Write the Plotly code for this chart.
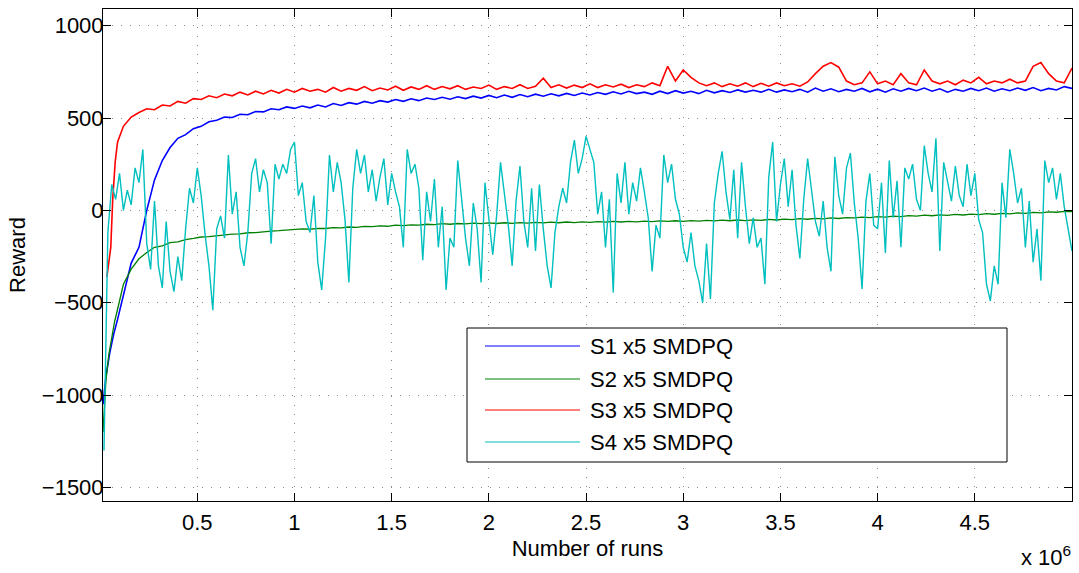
import plotly.graph_objects as go

# ---------------- data (x in millions of runs) ----------------
SERIES_NAMES = ["S1 x5 SMDPQ", "S2 x5 SMDPQ", "S3 x5 SMDPQ", "S4 x5 SMDPQ"]
SERIES_COLORS = ["#0000FF", "#008000", "#FF0000", "#00BFBF"]

# regular sampling grid shared by S1, S2, S3 (start, step in millions)
GRID_START, GRID_STEP = 0.12, 0.04

# early (steep) portion of each curve
S1_EARLY_X = [0.015, 0.03, 0.05, 0.07, 0.09, 0.105]
S1_EARLY_Y = [-1050, -900, -770, -670, -590, -525]
S2_EARLY_X = [0.015, 0.02, 0.03, 0.045, 0.06, 0.075, 0.09, 0.105]
S2_EARLY_Y = [-1200, -1080, -920, -780, -680, -600, -535, -470]
S3_EARLY_X = [0.035, 0.045, 0.055, 0.065, 0.078, 0.09, 0.10]
S3_EARLY_Y = [-360, -290, -200, 60, 266, 370, 400]

S1_Y = [
    -460, -285, -200, 0, 165, 270, 340, 390, 410, 442, 455, 480, 488, 505, 503, 520, 518, 535, 533,
    550, 545, 560, 552, 565, 555, 570, 560, 578, 568, 583, 575, 590, 580, 594, 586, 600, 590, 604, 594, 608,
    600, 612, 602, 615, 605, 618, 608, 622, 610, 624, 612, 627, 615, 629, 618, 631, 620, 633, 622, 635, 625,
    638, 628, 642, 630, 645, 632, 640, 628, 645, 632, 648, 635, 645, 632, 650, 636, 648, 638, 652, 640,
    650, 640, 655, 640, 652, 642, 655, 640, 662, 645, 658, 642, 655, 645, 660, 642, 656, 640, 658, 645, 660,
    648, 662, 645, 658, 640, 655, 645, 660, 648, 662, 645, 658, 648, 662, 650, 665, 648, 660, 652, 670, 660,
]
S2_Y = [
    -400, -318, -262, -228, -200, -192, -175, -170, -158, -152, -144, -142, -136, -134, -128, -127, -121, -120, -115,
    -112, -110, -106, -105, -100, -102, -97, -98, -93, -95, -90, -92, -87, -88, -84, -86, -80, -82, -78, -80, -75,
    -77, -72, -75, -71, -73, -69, -72, -68, -71, -67, -70, -66, -69, -65, -68, -64, -67, -63, -66, -62, -65,
    -61, -64, -60, -63, -59, -62, -58, -61, -57, -60, -56, -59, -55, -58, -54, -57, -53, -56, -52, -55,
    -51, -54, -49, -52, -47, -50, -45, -48, -43, -46, -41, -44, -39, -41, -36, -39, -34, -37, -31, -34, -28,
    -31, -26, -29, -24, -27, -22, -25, -20, -23, -18, -21, -16, -19, -14, -16, -11, -13, -8, -10, -5, -6,
]
S3_Y = [
    455, 505, 530, 550, 545, 570, 565, 590, 580, 605, 600, 620, 610, 630, 620, 640, 625, 645, 630,
    650, 635, 655, 640, 660, 645, 655, 640, 665, 645, 660, 650, 670, 648, 662, 652, 672, 650, 668, 655, 675,
    655, 670, 658, 675, 655, 668, 660, 678, 655, 670, 660, 680, 660, 672, 715, 665, 680, 662, 678, 665, 685,
    665, 680, 668, 683, 665, 680, 670, 690, 675, 780, 700, 760, 720, 690, 675, 690, 670, 685, 672, 690,
    670, 688, 672, 690, 675, 685, 672, 695, 740, 780, 800, 775, 700, 680, 690, 750, 685, 700, 680, 740, 690,
    680, 760, 700, 685, 700, 680, 705, 690, 720, 685, 700, 690, 710, 690, 700, 780, 800, 740, 700, 690, 770,
]

# S4 sampled every 0.02 million runs starting at 0.02
S4_START, S4_STEP = 0.02, 0.02
S4_Y = [
    -1300, -120, 140, 60, 200, 0, 110, 30, 230, 150, 330, -180, -320, 50, -300, -420, -60, -330, -440, -250, -380,
    -100, 120, 40, 230, 80, -130, -300, -540, -100, -30, -150, 300, -20, 100, -200, -300, -120, 200, 280, 100, 220,
    150, -180, 250, 170, 250, 200, 330, 370, 80, 150, -60, -120, 80, -280, -430, -150, 300, 100, 260, 150, -50,
    -390, 120, 330, 200, 300, 100, 220, 50, 180, 280, 30, 200, 100, 20, -200, 330, 200, 250, 120, -270,
    100, -60, 170, -200, 20, -430, -150, -200, 270, 60, -150, -300, 40, -100, -390, 150, -50, -240, -30, 260, 90,
    -80, -300, 50, 240, -60, -200, 120, -220, 140, -100, -300, -420, -120, 20, 120, 40, 260, 380, 200, 280, 400,
    330, 260, -20, 100, -200, 60, -445, 200, 40, 260, -20, 150, 50, 230, 100, -40, -330, -80, -150, 300, 150,
    250, 60, -20, -200, -280, -120, -300, -380, -500, -180, -480, 40, 200, 320, 100, -50, 220, -150, 260, 20, -180,
    -40, -200, -150, -400, 180, 370, -60, 140, 280, 20, 220, -80, -260, 60, 280, 120, -60, -140, 50, -200, -330,
    290, 80, -20, 230, 310, 40, -150, -425, 50, 200, -80, -100, 150, -230, 270, -40, 160, -200, 230, 170,
    250, 60, 0, 350, 200, 100, 390, -220, 260, 150, 50, 240, 80, 20, 250, 80, 200, -50, -120, -400, -490,
    -300, -400, 150, -40, 330, 200, 40, 120, -200, 50, -280, -100, -380, 270, 150, 230, 60, 200, 20, -110, -220,
]

X_TICK_VALUES = [0.5, 1, 1.5, 2, 2.5, 3, 3.5, 4, 4.5]          # millions
X_TICK_TEXT = ["0.5", "1", "1.5", "2", "2.5", "3", "3.5", "4", "4.5"]
Y_TICK_VALUES = [-1500, -1000, -500, 0, 500, 1000]
X_RANGE = [0.015, 5.0]
Y_RANGE = [-1573, 1090]
SCALE = 1e6


def grid(start, step, n):
    return [round(start + step * i, 4) * SCALE for i in range(n)]


s1_x = [v * SCALE for v in S1_EARLY_X] + grid(GRID_START, GRID_STEP, len(S1_Y))
s2_x = [v * SCALE for v in S2_EARLY_X] + grid(GRID_START, GRID_STEP, len(S2_Y))
s3_x = [v * SCALE for v in S3_EARLY_X] + grid(GRID_START, GRID_STEP, len(S3_Y))
s4_x = grid(S4_START, S4_STEP, len(S4_Y))

xs = [s1_x, s2_x, s3_x, s4_x]
ys = [S1_EARLY_Y + S1_Y, S2_EARLY_Y + S2_Y, S3_EARLY_Y + S3_Y, S4_Y]
widths = [1.6, 1.3, 1.6, 1.4]

FONT = "Liberation Sans, Arial, Helvetica, sans-serif"

fig = go.Figure()
for name, color, x, y, w in zip(SERIES_NAMES, SERIES_COLORS, xs, ys, widths):
    fig.add_trace(go.Scatter(x=x, y=y, mode="lines", name=name,
                             line=dict(color=color, width=w), showlegend=False))

W, H = 1079, 573
ML, MR, MT, MB = 103, 7, 9, 72
PW, PH = W - ML - MR, H - MT - MB


def px_x(p):
    return (p - ML) / PW


def px_y(p):
    return (H - MB - p) / PH


fig.update_layout(
    width=W, height=H,
    margin=dict(l=ML, r=MR, t=MT, b=MB, pad=0),
    plot_bgcolor="white", paper_bgcolor="white",
    font=dict(family=FONT, size=22, color="black"),
    showlegend=False,
)
axis_common = dict(
    ticks="inside", ticklen=8, tickwidth=1, tickcolor="black",
    showline=True, linecolor="black", linewidth=1, mirror="ticks",
    showgrid=True, gridcolor="#8a8a8a", gridwidth=1, griddash="1px,8px",
    zeroline=False, tickfont=dict(family=FONT, size=22, color="black"),
)
fig.update_xaxes(range=[X_RANGE[0] * SCALE, X_RANGE[1] * SCALE],
                 tickvals=[v * SCALE for v in X_TICK_VALUES], ticktext=X_TICK_TEXT,
                 ticklabelstandoff=2,
                 title=dict(text="Number of runs", standoff=6, font=dict(size=22)),
                 **axis_common)
fig.update_yaxes(range=Y_RANGE, tickvals=Y_TICK_VALUES,
                 ticklabelstandoff=-6,
                 title=dict(text="Reward", standoff=10, font=dict(size=22)),
                 **axis_common)

# exponent label
fig.add_annotation(xref="paper", yref="paper", x=px_x(1073), y=px_y(556),
                   xanchor="right", yanchor="middle", showarrow=False,
                   text="x 10<sup>6</sup>", font=dict(size=22))

# legend box (MATLAB style)
fig.add_shape(type="rect", xref="paper", yref="paper",
              x0=px_x(467), x1=px_x(1007), y0=px_y(462), y1=px_y(328),
              line=dict(color="black", width=1), fillcolor="white", layer="above")
rows = [346, 379, 410, 442]
for name, color, ry in zip(SERIES_NAMES, SERIES_COLORS, rows):
    fig.add_shape(type="line", xref="paper", yref="paper",
                  x0=px_x(485), x1=px_x(580), y0=px_y(ry), y1=px_y(ry),
                  line=dict(color=color, width=1.2), layer="above")
    fig.add_annotation(xref="paper", yref="paper", x=px_x(588), y=px_y(ry),
                       xanchor="left", yanchor="middle", showarrow=False,
                       text=name, font=dict(size=22, color="black"))

fig.write_html("out.html", config={"displayModeBar": False},
               post_script="document.body.style.margin='0';")
